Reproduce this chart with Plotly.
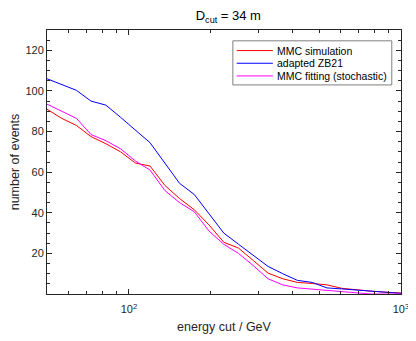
import plotly.graph_objects as go

# energy cut grid (GeV)
energy = [50, 56.6, 64.1, 72.6, 82.3, 93.2, 105.6, 119.6, 135.5, 153.5, 173.9, 197.0,
          223.2, 252.8, 286.4, 324.5, 367.6, 416.4, 471.7, 534.4, 605.4, 685.8, 776.9, 880.1, 1000]

mmc_sim = [91, 86.5, 83, 77.5, 74, 70, 64.5, 63, 53.5, 47, 41.5, 34,
           25.5, 22.6, 16.5, 10.3, 7.5, 5.7, 5.2, 4.5, 2.8, 2.0, 1.4, 0.9, 0.5]

zb21 = [106, 103, 100.3, 95, 93, 87, 80.8, 74.5, 64.5, 54.5, 49, 39.5,
        30, 24.5, 19, 13.6, 10, 6.7, 5.7, 3, 2.5, 2.0, 1.5, 0.8, 0.3]

mmc_fit = [93.5, 90, 86.5, 78.5, 75.5, 71.5, 65.5, 61, 51, 45, 40.5, 31,
           24.5, 20, 14, 7.5, 4.5, 3, 2.4, 1.8, 1.3, 0.7, 0, 0, 0]

names = ["MMC simulation", "adapted ZB21", "MMC fitting (stochastic)"]
colors = ["#ff0000", "#0000ff", "#ff00ff"]

x_minor = [50, 60, 70, 80, 90, 200, 300, 400, 500, 600, 700, 800, 900]

axcol = "#262626"
fnt = "Liberation Sans, Arial, sans-serif"

fig = go.Figure()
for ys, nm, c in zip([mmc_sim, zb21, mmc_fit], names, colors):
    fig.add_trace(go.Scatter(x=energy, y=ys, mode="lines", name=nm,
                             line=dict(color=c, width=1), showlegend=False))

# matlab-style legend box, drawn by hand so the rows can sit close together
fig.add_shape(type="rect", xref="paper", yref="paper", x0=0.525, x1=0.974, y0=0.792, y1=0.959,
              line=dict(color="#7f7f7f", width=1), fillcolor="white", layer="above")
rows = [0.922, 0.874, 0.826]
for nm, c, yy in zip(names, colors, rows):
    fig.add_shape(type="line", xref="paper", yref="paper", x0=0.536, x1=0.638, y0=yy, y1=yy,
                  line=dict(color=c, width=1), layer="above")
    fig.add_annotation(text=nm, xref="paper", yref="paper", x=0.644, y=yy,
                       xanchor="left", yanchor="middle", showarrow=False,
                       font=dict(size=10.5, color="black"))

# page body adds an 8px offset, so the figure is a bit smaller than the window
fig.update_layout(
    width=408, height=333,
    margin=dict(l=39, r=15, t=22, b=47),
    paper_bgcolor="white", plot_bgcolor="white",
    font=dict(family=fnt, size=11, color=axcol),
    title=dict(text="D<sub>cut</sub> = 34 m", x=0.54, xanchor="center",
               y=0.978, yanchor="middle", font=dict(size=13, color="black")),
    showlegend=False,
)

fig.update_xaxes(
    type="log", range=[1.69897, 3], automargin=False,
    tickvals=[100, 1000], ticktext=["10<sup>2</sup>", "10<sup>3</sup>"],
    ticks="inside", ticklen=5, tickcolor=axcol, ticklabelstandoff=5,
    minor=dict(tickvals=x_minor, ticks="inside", ticklen=3, tickcolor=axcol),
    showline=True, linecolor=axcol, linewidth=1, mirror="ticks",
    showgrid=False, zeroline=False,
    title=dict(text="energy cut / GeV", standoff=8, font=dict(size=12.5)),
)
fig.update_yaxes(
    range=[0, 130], tickvals=[20, 40, 60, 80, 100, 120], automargin=False,
    ticks="inside", ticklen=5, tickcolor=axcol,
    minor=dict(dtick=5, ticks="inside", ticklen=3, tickcolor=axcol),
    showline=True, linecolor=axcol, linewidth=1, mirror="ticks",
    showgrid=False, zeroline=False,
    title=dict(text="number of events", standoff=8, font=dict(size=12.5)),
)

fig.write_html("out.html")
